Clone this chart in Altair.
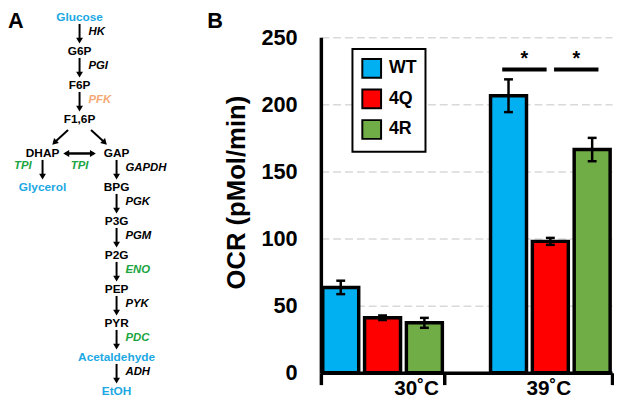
import altair as alt
import pandas as pd

FONT = "Liberation Sans"

# ---------------- Panel B values ----------------
temps = ["30˚C", "39˚C"]
strains = ["WT", "4Q", "4R"]
ocr_30 = [63.6, 41.0, 37.2]
ocr_39 = [206.4, 97.9, 166.3]
sem_30 = [5.0, 1.7, 3.7]
sem_39 = [12.2, 2.6, 8.7]
strain_colors = ["#00B0F0", "#FF0000", "#70AD47"]
sig_pairs = ["WT vs 4Q", "4Q vs 4R"]
sig_temp = ["39˚C", "39˚C"]
sig_height = [226, 226]
y_ticks = [0, 50, 100, 150, 200, 250]

# ---------------- Panel A values ----------------
metabolites = ["Glucose", "G6P", "F6P", "F1,6P", "DHAP", "GAP", "Glycerol", "BPG",
               "P3G", "P2G", "PEP", "PYR", "Acetaldehyde", "EtOH"]
met_col = [1, 1, 1, 1, 0, 2, 0, 2, 2, 2, 2, 2, 2, 2]
met_level = [0, 1, 2, 3, 4, 4, 5, 5, 6, 7, 8, 9, 10, 11]
met_tone = ["blue", "plain", "plain", "plain", "plain", "plain", "blue", "plain",
            "plain", "plain", "plain", "plain", "blue", "blue"]
step_from = ["Glucose", "G6P", "F6P", "F1,6P", "F1,6P", "DHAP", "GAP", "DHAP", "GAP",
             "BPG", "P3G", "P2G", "PEP", "PYR", "Acetaldehyde"]
step_to = ["G6P", "F6P", "F1,6P", "DHAP", "GAP", "GAP", "DHAP", "Glycerol", "BPG",
           "P3G", "P2G", "PEP", "PYR", "Acetaldehyde", "EtOH"]
step_enzyme = ["HK", "PGI", "PFK", "", "", "TPI", "", "TPI", "GAPDH",
               "PGK", "PGM", "ENO", "PYK", "PDC", "ADH"]
step_tone = ["plain", "plain", "orange", "plain", "plain", "green", "plain", "green", "plain",
             "plain", "plain", "green", "plain", "green", "plain"]
step_side = ["right", "right", "right", "", "", "below", "", "left", "right",
             "right", "right", "right", "right", "right", "right"]
tone_names = ["plain", "blue", "orange", "green"]
tone_colors = ["#000000", "#1CA8E3", "#F4A873", "#1AA541"]

# ---------------- tables ----------------
rows = []
for t, vals, errs in zip(temps, [ocr_30, ocr_39], [sem_30, sem_39]):
    for s, v, e in zip(strains, vals, errs):
        rows.append({"temp": t, "strain": s, "ocr": v, "lo": v - e, "hi": v + e})
bars_df = pd.DataFrame(rows)
sig_df = pd.DataFrame({"temp": sig_temp, "pair": sig_pairs, "level": sig_height})

nodes_df = pd.DataFrame({"name": metabolites, "col": met_col, "level": met_level, "tone": met_tone})
pos = {n: (c, l) for n, c, l in zip(metabolites, met_col, met_level)}
steps_df = pd.DataFrame({
    "c1": [pos[f][0] for f in step_from], "l1": [pos[f][1] for f in step_from],
    "c2": [pos[t][0] for t in step_to], "l2": [pos[t][1] for t in step_to],
    "enzyme": step_enzyme, "tone": step_tone, "side": step_side,
})

# ---------------- Panel A ----------------
def XA(f):
    return alt.X(f, type="quantitative", axis=None,
                 scale=alt.Scale(domain=[-0.9333, 4.32], nice=False, zero=False))

def YA(f):
    return alt.Y(f, type="quantitative", axis=None,
                 scale=alt.Scale(domain=[0.5805, 10.45], reverse=True, nice=False, zero=False))

tone_color = alt.Color("tone:N", scale=alt.Scale(domain=tone_names, range=tone_colors), legend=None)

steps = alt.Chart(steps_df).transform_calculate(
    dc="datum.c2 - datum.c1", dl="datum.l2 - datum.l1"
).transform_calculate(
    t0="datum.dc == 0 ? 0.19 : 0.31"
).transform_calculate(
    xs="datum.c1 + datum.dc * datum.t0", ys="datum.l1 + datum.dl * datum.t0",
    xe="datum.c1 + datum.dc * 0.68", ye="datum.l1 + datum.dl * 0.68",
    xm="datum.c1 + datum.dc * 0.5", ym="datum.l1 + datum.dl * 0.5",
    ang="atan2(datum.dc, -datum.dl) * 180 / PI",
)

shafts = steps.mark_rule(color="black", strokeWidth=2).encode(
    x=XA("xs"), y=YA("ys"), x2=alt.X2("xe:Q"), y2=alt.Y2("ye:Q"))
heads = steps.mark_point(shape="triangle-up", filled=True, size=48, color="black", opacity=1).encode(
    x=XA("xe"), y=YA("ye"), angle=alt.Angle("ang:Q", scale=None))

enz = steps.transform_filter("datum.enzyme != ''")
enz_style = dict(fontStyle="italic", fontWeight="bold", fontSize=11.5, font=FONT, baseline="middle")
right_lab = enz.transform_filter("datum.side == 'right'").mark_text(align="left", dx=9, dy=-2, **enz_style).encode(
    x=XA("xm"), y=YA("ym"), text="enzyme:N", color=tone_color)
left_lab = enz.transform_filter("datum.side == 'left'").mark_text(align="right", dx=-11, dy=-5, **enz_style).encode(
    x=XA("xm"), y=YA("ym"), text="enzyme:N", color=tone_color)
below_lab = enz.transform_filter("datum.side == 'below'").mark_text(align="center", dy=13, **enz_style).encode(
    x=XA("xm"), y=YA("ym"), text="enzyme:N", color=tone_color)

nodes = alt.Chart(nodes_df).mark_text(fontWeight="bold", fontSize=12, font=FONT, baseline="middle").encode(
    x=XA("col"), y=YA("level"), text="name:N", color=tone_color)

letter_a = alt.Chart(pd.DataFrame({"panel": ["A"]})).mark_text(
    align="left", baseline="top", fontSize=22, fontWeight="bold", font=FONT, color="black"
).encode(text="panel:N", x=alt.value(0), y=alt.value(-26))

panel_a = alt.layer(shafts, heads, nodes, right_lab, left_lab, below_lab, letter_a).properties(
    width=197, height=340)

# ---------------- Panel B ----------------
x_axis = alt.Axis(
    title=None, labelAngle=0, labelFontSize=21, labelFontWeight="bold", labelColor="black",
    labelPadding=-7, domainColor="black", domainWidth=3.5, tickColor="black", tickWidth=3.5,
    tickSize=12, tickBand="extent",
    labelOffset={"condition": {"test": "datum.value === '30˚C'", "value": 34}, "value": -2},
)
x_scale = alt.Scale(type="band", domain=temps, paddingInner=0.2647, paddingOuter=0)
xo_scale = alt.Scale(type="band", domain=strains, paddingInner=0.14, paddingOuter=0.045)
pair_scale = alt.Scale(type="band", domain=sig_pairs, paddingInner=0, paddingOuter=0.19)
y_axis = alt.Axis(
    title="OCR (pMol/min)", titleFontSize=26, titleFontWeight="bold", titleColor="black",
    titleX=-77, titleY=157, titleBaseline="alphabetic", titleAngle=270, titleAlign="center",
    values=y_ticks, labelFontSize=22, labelFontWeight="bold", labelColor="black", labelPadding=24,
    ticks=False, tickSize=0, domainColor="black", domainWidth=3.5,
    grid=True, gridDash=[8, 4], gridColor="#D9D9D9", gridWidth=1.5,
)
y_scale = alt.Scale(domain=[0, 250], nice=False)

def XB():
    return alt.X("temp:N", scale=x_scale, axis=x_axis)

def XOB():
    return alt.XOffset("strain:N", scale=xo_scale)

def YB(f):
    return alt.Y(f, type="quantitative", scale=y_scale, axis=y_axis)

base = alt.Chart(bars_df)
bars = base.mark_bar(stroke="black", strokeWidth=3.5).encode(
    x=XB(), xOffset=XOB(), y=YB("ocr"),
    color=alt.Color("strain:N", scale=alt.Scale(domain=strains, range=strain_colors),
                    legend=alt.Legend(
                        title=None, orient="none", legendX=32, legendY=12,
                        symbolType="square", symbolSize=361, symbolStrokeColor="black",
                        symbolStrokeWidth=2, symbolOpacity=1, labelFontSize=18,
                        labelFontWeight="bold", labelColor="black", labelOffset=7,
                        strokeColor="black", fillColor="white", padding=9, rowPadding=4)),
)
err = base.mark_rule(color="black", strokeWidth=2.5).encode(
    x=XB(), xOffset=XOB(), y=YB("lo"), y2=alt.Y2("hi:Q"))
caps = base.transform_fold(["lo", "hi"], as_=["end", "bound"]).mark_tick(
    orient="horizontal", size=9, thickness=2.5, color="black", opacity=1
).encode(x=XB(), xOffset=XOB(), y=YB("bound"))

sig = alt.Chart(sig_df)
sig_bars = sig.mark_tick(orient="horizontal", size=45, thickness=4, color="black", opacity=1).encode(
    x=XB(), xOffset=alt.XOffset("pair:N", scale=pair_scale), y=YB("level"))
stars = sig.mark_text(text="*", fontSize=20, fontWeight="bold", font=FONT, color="black",
                      align="center", baseline="alphabetic", dy=-4).encode(
    x=XB(), xOffset=alt.XOffset("pair:N", scale=pair_scale), y=YB("level"))

letter_b = alt.Chart(pd.DataFrame({"panel": ["B"]})).mark_text(
    align="left", baseline="top", fontSize=22, fontWeight="bold", font=FONT, color="black"
).encode(text="panel:N", x=alt.value(-115), y=alt.value(-26))

panel_b = alt.layer(bars, err, caps, sig_bars, stars, letter_b).resolve_scale(
    xOffset="independent").properties(width=295, height=340)

chart = alt.hconcat(panel_a, panel_b, spacing=5).resolve_scale(color="independent").properties(
    padding=0).configure(font=FONT).configure_view(stroke=None).configure_legend(strokeWidth=2)

chart.save("out.html", embed_options={"renderer": "svg", "actions": False})
